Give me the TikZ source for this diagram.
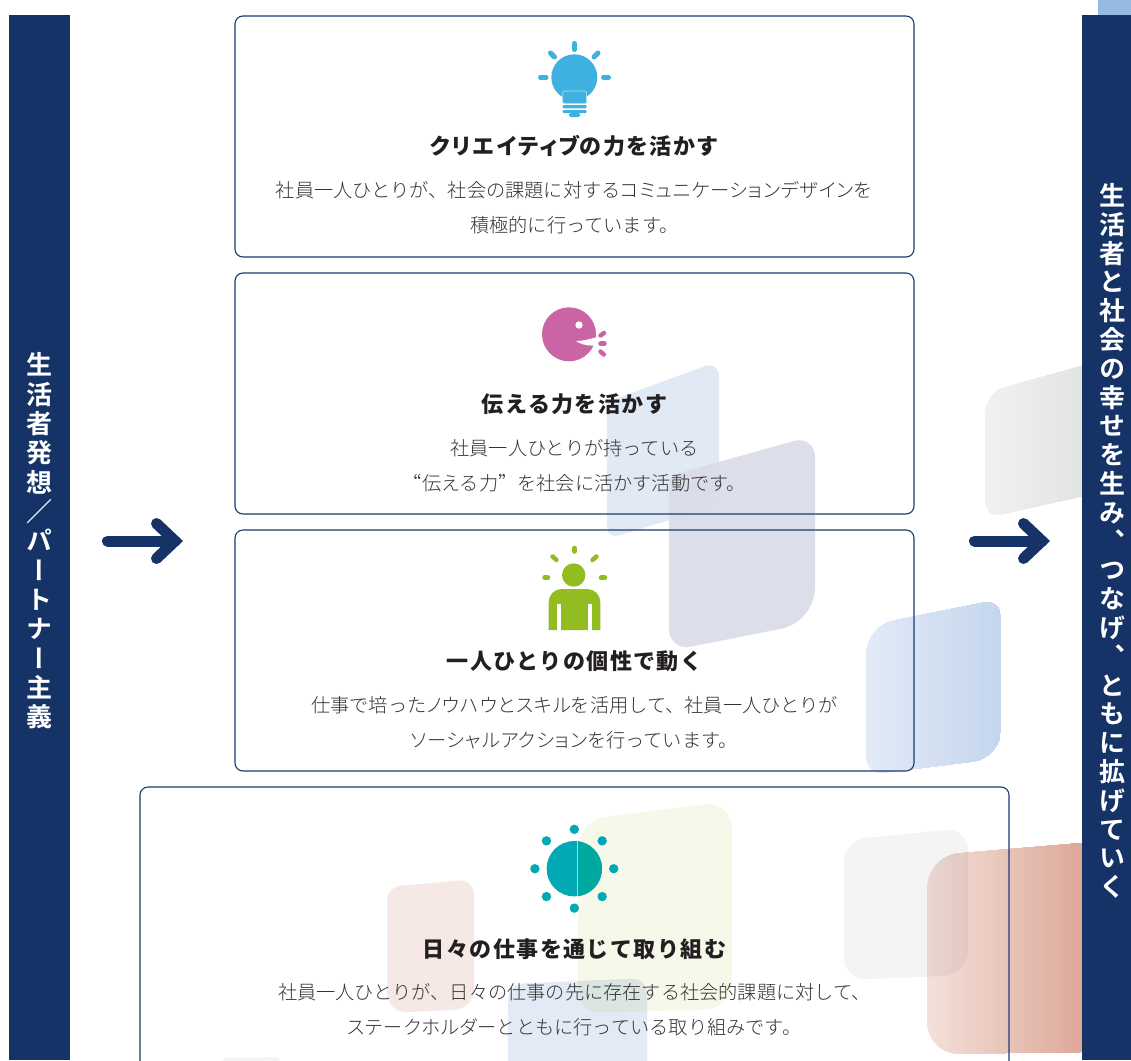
\documentclass[tikz,border=0pt]{standalone}
\usepackage{fontspec}
\usetikzlibrary{calc}
\setmainfont{Noto Sans CJK JP}
\newfontfamily\bodyf{Noto Sans CJK JP Light}
\newfontfamily\katab[LetterSpace=4,RawFeature=+palt]{Noto Sans CJK JP Light}
\newfontfamily\quoteb[RawFeature=+fwid]{Noto Sans CJK JP Light}
\newfontfamily\titlef[LetterSpace=6.5]{Noto Sans CJK JP Black}
\newfontfamily\katat[LetterSpace=10,RawFeature=+palt]{Noto Sans CJK JP Black}
\newfontfamily\sidef[RawFeature=+vert]{Noto Sans CJK JP Bold}
\newcommand{\KB}[1]{{\katab #1}}
\newcommand{\KT}[1]{{\katat #1}}
\newcommand{\QB}[1]{{\quoteb #1}}
\definecolor{navy}{HTML}{153366}
\definecolor{cardline}{HTML}{1A3A72}
\definecolor{bulbc}{HTML}{3EB1E0}
\definecolor{speechc}{HTML}{C965A5}
\definecolor{personc}{HTML}{92BD21}
\definecolor{sunl}{HTML}{00A9B3}
\definecolor{sunr}{HTML}{00A99F}
\definecolor{bodyc}{HTML}{333333}
\definecolor{titlec}{HTML}{231F20}
\definecolor{topblue}{HTML}{95BBE3}
\definecolor{E1}{HTML}{E1E9F5}
\definecolor{S2}{HTML}{DADCE9}
\definecolor{S3l}{HTML}{E2EAF6}
\definecolor{S3r}{HTML}{C5D6EE}
\definecolor{S4l}{HTML}{F0F1F1}
\definecolor{S4r}{HTML}{E0E1E1}
\definecolor{S5l}{HTML}{F3E0DA}
\definecolor{S5r}{HTML}{DEA999}
\definecolor{S6}{HTML}{F4F4F4}
\definecolor{S7}{HTML}{F6E9E5}
\definecolor{S8}{HTML}{F6F9E9}
\definecolor{S9}{HTML}{E3EAF6}
\tikzset{
  card/.style={draw=cardline,line width=1.1pt,rounded corners=8pt,inner sep=0pt,minimum width=679pt,minimum height=241pt},
  bigcard/.style={card,minimum width=869pt,minimum height=288pt},
  bar/.style={fill=navy,draw=none},
  cardtitle/.style={inner sep=0pt,text=titlec,font={\titlef\fontsize{22}{25}\selectfont}},
  cardbody/.style={inner sep=0pt,text=bodyc,align=center,font={\bodyf\fontsize{19.2}{35}\selectfont}},
  sidetext/.style={inner sep=0pt,text=white,align=center},
  arrowpart/.style={draw=navy,line width=11pt,line cap=round,miter limit=10},
  ray/.style={line width=#1,line cap=round},
}
\def\blobradii#1/#2/#3/#4\relax{\def\ra{#1pt}\def\rb{#2pt}\def\rc{#3pt}\def\rd{#4pt}}
% \blob{options}{xl}{xr}{top-left y}{top-right y}{bottom-right y}{bottom-left y}{r1/r2/r3/r4}
\newcommand{\blob}[8]{\blobradii#8\relax
  \fill[#1] (#2,{(#4+#7)/2}) [rounded corners=\ra] -- (#2,#4) -- ({(#2+#3)/2},{(#4+#5)/2})
    [rounded corners=\rb] -- (#3,#5) -- (#3,{(#5+#6)/2})
    [rounded corners=\rc] -- (#3,#6) -- ({(#2+#3)/2},{(#6+#7)/2})
    [rounded corners=\rd] -- (#2,#7) -- cycle;}
% gradient block: painted as overlapping strips inside the outline
\newcommand{\gradblob}[9]{\begin{scope}\blobradii#9\relax
  \clip (#3,{(#5+#8)/2}) [rounded corners=\ra] -- (#3,#5) -- ({(#3+#4)/2},{(#5+#6)/2})
    [rounded corners=\rb] -- (#4,#6) -- (#4,{(#6+#7)/2})
    [rounded corners=\rc] -- (#4,#7) -- ({(#3+#4)/2},{(#7+#8)/2})
    [rounded corners=\rd] -- (#3,#8) -- cycle;
  \foreach \i in {0,...,40}{
    \pgfmathsetmacro{\pc}{\i*2.5}
    \pgfmathsetmacro{\xs}{#3+(#4-#3)*\i/41}
    \fill[#2!\pc!#1] (\xs,300) rectangle (#4,1100);
  }\end{scope}}
\begin{document}
\begin{tikzpicture}[x=1pt,y=-1pt]
\clip (0,0) rectangle (1131,1060);
\fill[white] (0,0) rectangle (1131,1060);
% background shapes
\blob{fill=E1}{607}{719}{402}{361}{505}{539}{6/15/22/12}
\blob{fill=S2,fill opacity=.93}{669}{815}{476}{435}{622}{651}{8/22/34/22}
\gradblob{S3l}{S3r}{866}{1001}{626}{599}{758}{775}{28/18/28/18}
\gradblob{S4l}{S4r}{985}{1100}{393}{361}{492}{518}{20/2/2/16}
\gradblob{S5l}{S5r}{927}{1082}{856}{843}{1052}{1054}{32/2/2/32}
\begin{scope}[blend mode=multiply]
\blob{fill=S6}{844}{968}{840}{828}{975}{980}{22/22/24/22}
\blob{fill=S7}{387}{474}{887}{879}{1009}{1013}{14/16/20/20}
\blob{fill=S8}{578}{732}{820}{801}{1009}{1013}{28/28/28/22}
\blob{fill=S9}{508}{647}{984}{978}{1075}{1075}{16/16/1/1}
\blob{fill=S6}{222}{280}{1058}{1057}{1075}{1075}{4/4/1/1}
\end{scope}
% side bars
\fill[fill=topblue] (1098,0) rectangle (1131,16);
\fill[bar] (9,15) rectangle (70,1060);
\fill[bar] (1082,15) rectangle (1131,1060);
\node[sidetext,font={\sidef\fontsize{26}{29.35}\selectfont}] (lefttext) at (39.5,541) {生\\活\\者\\発\\想\\／\\パ\\ー\\ト\\ナ\\ー\\主\\義};
\node[sidetext,font={\sidef\fontsize{26}{28.8}\selectfont}] (righttext) at (1112,541) {生\\活\\者\\と\\社\\会\\の\\幸\\せ\\を\\生\\み\\、\\つ\\な\\げ\\、\\と\\も\\に\\拡\\げ\\て\\い\\く};
% cards
\node[card] (c1) at (574.5,136.5) {};
\node[card] (c2) at (574.5,393.5) {};
\node[card] (c3) at (574.5,650.5) {};
\node[bigcard] (c4) at (574.5,931) {};
% arrows
\foreach \dx/\nm in {0/a,867/b}{
  \coordinate (\nm1) at ({107.5+\dx},541);
  \coordinate (\nm2) at ({175+\dx},541);
  \coordinate (\nm3) at ({156.5+\dx},523.5);
  \coordinate (\nm4) at ({156.5+\dx},558.5);
  \draw[arrowpart] (\nm1) -- (\nm2);
  \draw[arrowpart,line join=miter] (\nm3) -- (\nm2) -- (\nm4);
}
% bulb icon
\fill[bulbc] (574.3,77.3) circle (23pt);
\draw[bulbc,ray=5pt] (574.3,43.5) -- (574.3,49.5);
\draw[bulbc,ray=5pt] (540.5,77.3) -- (546,77.3);
\draw[bulbc,ray=5pt] (603.5,77.3) -- (608.5,77.3);
\draw[bulbc,ray=5pt] (550.5,53) -- (554.5,57);
\draw[bulbc,ray=5pt] (598,53) -- (594,57);
\draw[fill=bulbc,draw=white!55!bulbc,line width=.7pt,rounded corners=1.5pt] (562.7,91) rectangle (586.5,103.5);
\fill[bulbc,rounded corners=1.2pt] (562.5,105) rectangle (586.5,108.3);
\fill[bulbc,rounded corners=1.2pt] (562.5,110) rectangle (586.5,113.2);
\fill[bulbc,rounded corners=1.5pt] (569,113) rectangle (580,117);
% speech icon
\fill[speechc] (569,334.3) circle (27pt);
\fill[speechc] (592,327) -- (595,330) -- (592,336) -- cycle;
\fill[white] (579,325) circle (3.7pt);
\fill[white] (576,341) .. controls (584,340.8) and (590,339) .. (597,337) -- (597,346) -- (591,345.5) .. controls (586,345.5) and (580,344) .. (576,341) -- cycle;
\draw[speechc,ray=4.5pt] (600.5,335.5) -- (604,333);
\draw[speechc,ray=4.5pt] (600.5,343.7) -- (604.5,343.7);
\draw[speechc,ray=4.5pt] (600.5,351.5) -- (603.8,354.5);
% person icon
\fill[personc] (573.7,575) circle (11.7pt);
\fill[personc,rounded corners=13pt] (548.7,630) -- (548.7,589) -- (600.3,589) [sharp corners] -- (600.3,630) -- cycle;
\fill[white] (557.3,604.3) rectangle (560.7,631);
\fill[white] (588.3,604.3) rectangle (591.7,631);
\draw[personc,ray=4.5pt] (574.3,548) -- (574.3,551.5);
\draw[personc,ray=4.5pt] (552.5,556.5) -- (556.5,560);
\draw[personc,ray=4.5pt] (596.5,556.5) -- (592.5,560);
\draw[personc,ray=4.5pt] (544.5,577.7) -- (548,577.7);
\draw[personc,ray=4.5pt] (601,577.7) -- (605,577.7);
% sun icon
\fill[sunl] (574.3,868.7) circle (27.7pt);
\begin{scope}
\clip (577.7,830) rectangle (610,905);
\fill[sunr] (574.3,868.7) circle (27.7pt);
\end{scope}
\draw[white!60!sunl,line width=.5pt] (577.7,841.3) -- (577.7,896.2);
\foreach \a in {0,45,...,315}{
  \fill[sunl] ($(574.3,868.7)+({39.4*cos(\a)},{39.4*sin(\a)})$) circle (4.7pt);
}
% texts
\node[cardtitle] (t1) at (574.5,146) {\KT{クリエイティブ}の力を活かす};
\node[cardbody] (b1) at (574.5,208) {社員一人ひとりが、社会の課題に対する\KB{コミュニケーションデザイン}を\\積極的に行っています。};
\node[cardtitle] (t2) at (574.5,404) {伝える力を活かす};
\node[cardbody] (b2) at (574.5,466) {社員一人ひとりが持っている\\\QB{“}伝える力\QB{”}を社会に活かす活動です。};
\node[cardtitle] (t3) at (574.5,661) {一人ひとりの個性で動く};
\node[cardbody] (b3) at (574.5,723) {仕事で培った\KB{ノウハウ}と\KB{スキル}を活用して、社員一人ひとりが\\\KB{ソーシャルアクション}を行っています。};
\node[cardtitle] (t4) at (574.5,949) {日々の仕事を通じて取り組む};
\node[cardbody] (b4) at (574.5,1010) {社員一人ひとりが、日々の仕事の先に存在する社会的課題に対して、\\\KB{ステークホルダー}とともに行っている取り組みです。};
\end{tikzpicture}
\end{document}
